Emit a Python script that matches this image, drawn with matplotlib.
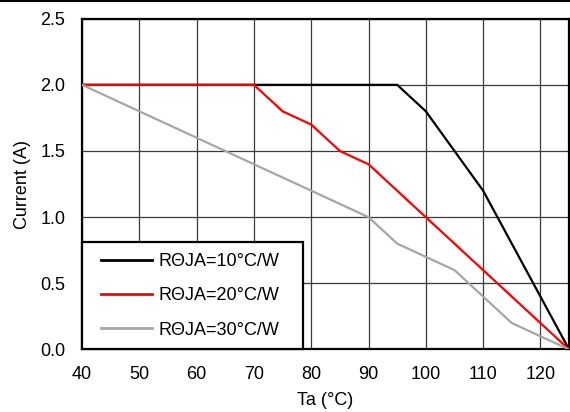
import numpy as np
import matplotlib.pyplot as plt
from matplotlib.lines import Line2D
from matplotlib.legend_handler import HandlerLine2D

plt.rcParams["font.family"] = ["Liberation Sans", "DejaVu Sans"]

# derating curves
ta_10 = [40, 95, 100, 110, 125]
cur_10 = [2.0, 2.0, 1.8, 1.2, 0.0]

ta_20 = [40, 70, 75, 80, 85, 90, 125]
cur_20 = [2.0, 2.0, 1.8, 1.7, 1.5, 1.4, 0.0]

ta_30 = [40, 90, 95, 105, 110, 115, 125]
cur_30 = [2.0, 1.0, 0.8, 0.6, 0.4, 0.2, 0.0]

labels = ["R\u0398JA=10°C/W", "R\u0398JA=20°C/W", "R\u0398JA=30°C/W"]
x_ticks = [40, 50, 60, 70, 80, 90, 100, 110, 120]
y_ticks = [0.0, 0.5, 1.0, 1.5, 2.0, 2.5]

fs = 13

fig = plt.figure(figsize=(5.7, 4.12), dpi=100)
ax = fig.add_axes([0.1439, 0.1517, 0.8545, 0.803])

ax.plot(ta_10, cur_10, color="black", lw=1.6, label=labels[0], zorder=3)
ax.plot(ta_20, cur_20, color="#ff0000", lw=1.6, label=labels[1], zorder=3)
ax.plot(ta_30, cur_30, color="#a6a6a6", lw=1.6, label=labels[2], zorder=3)

ax.set_xlim(40, 125)
ax.set_ylim(0, 2.5)
ax.set_xticks(x_ticks)
ax.set_yticks(y_ticks)
ax.set_yticklabels([f"{v:.1f}" for v in y_ticks])
ax.tick_params(axis="x", length=0, labelsize=fs, pad=12)
ax.tick_params(axis="y", length=0, labelsize=fs, pad=12)
ax.grid(True, color="#3a3a3a", lw=0.9)
ax.set_axisbelow(True)
for s in ax.spines.values():
    s.set_linewidth(1.6)
    s.set_color("black")

ax.set_xlabel("Ta (°C)", fontsize=fs, labelpad=6.5)
ax.set_ylabel("Current (A)", fontsize=fs, labelpad=7)

leg = ax.legend(loc="lower left", bbox_to_anchor=(0, 0, 0.454, 0.5),
                mode="expand", borderaxespad=0,
                fancybox=False, edgecolor="black", framealpha=1,
                fontsize=fs, handlelength=3.28, labelspacing=0.96,
                borderpad=0.6, handletextpad=0.33,
                handler_map={Line2D: HandlerLine2D(xpad=0.44)})
leg.get_frame().set_linewidth(1.6)
for h in leg.get_lines():
    h.set_linewidth(2)

# thin rule along the top of the figure
fig.add_artist(Line2D([0, 1], [0.998, 0.998], color="black", lw=1.5,
                      transform=fig.transFigure))

fig.savefig("out.png", dpi=100)
